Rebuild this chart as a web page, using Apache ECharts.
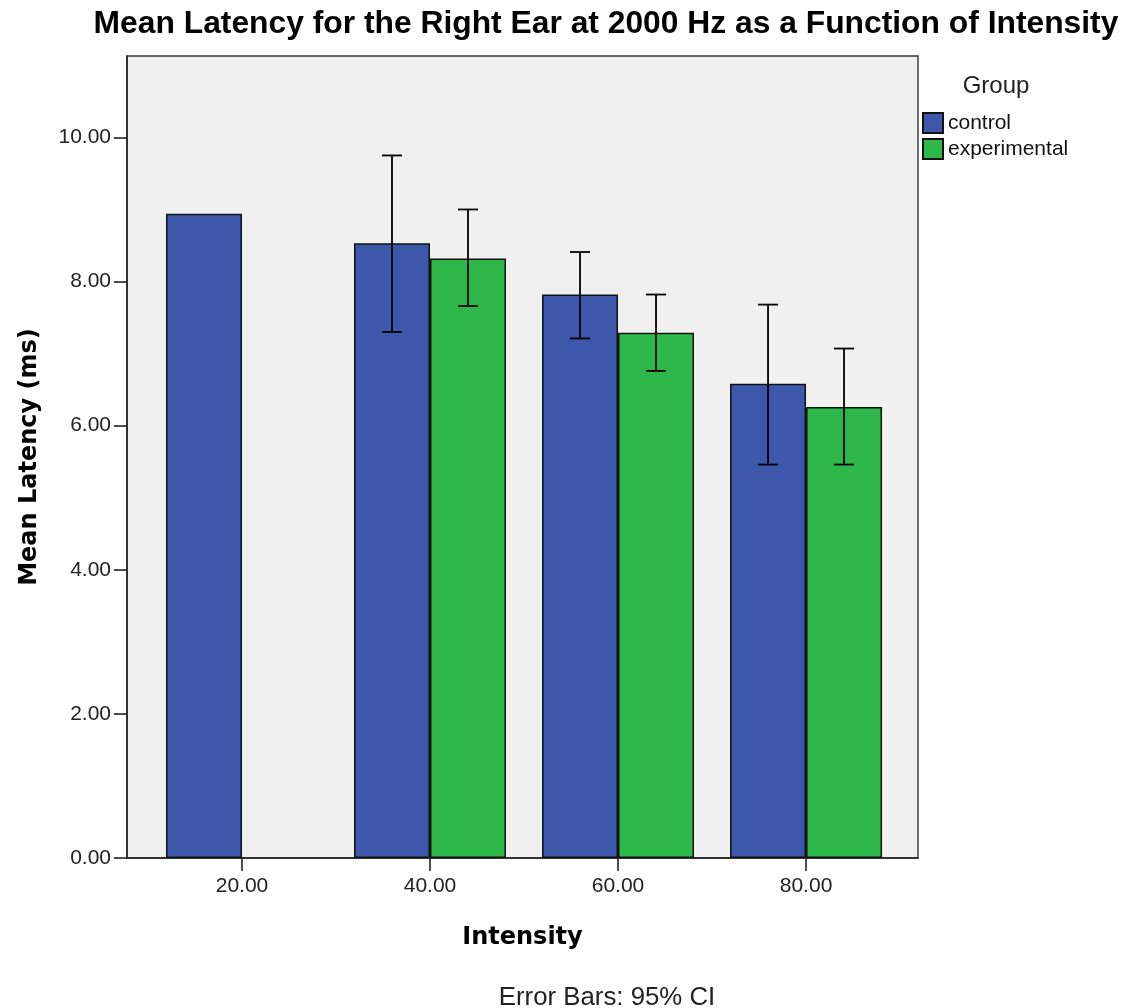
<!DOCTYPE html>
<html>
<head>
<meta charset="utf-8">
<script src="https://cdn.jsdelivr.net/npm/echarts@6/dist/echarts.min.js"></script>
<style>
  html, body { margin: 0; padding: 0; background: #ffffff; }
  #chart { width: 1125px; height: 1008px; }
</style>
</head>
<body>
<div id="chart"></div>
<script>
// Intensity levels (dB) on the x axis
const intensity = [20, 40, 60, 80];
const yTicks = [0, 2, 4, 6, 8, 10];

// Mean latency (ms) and 95% CI bounds per group; null = no data
const controlMean = [8.94, 8.53, 7.82, 6.58];
const controlLow  = [null, 7.30, 7.21, 5.46];
const controlHigh = [null, 9.75, 8.41, 7.68];

const experimentalMean = [null, 8.32, 7.29, 6.26];
const experimentalLow  = [null, 7.66, 6.76, 5.46];
const experimentalHigh = [null, 9.00, 7.82, 7.07];

const BLUE = '#3d58ab';
const GREEN = '#2fb84a';
const BAR_W = 76;

const sansFont = '"Liberation Sans", Arial, sans-serif';
const nameFont = '"DejaVu Sans", Verdana, sans-serif';

function barData(means) {
  const out = [];
  means.forEach((v, i) => { if (v != null) out.push([intensity[i], v]); });
  return out;
}
function ciData(low, high) {
  const out = [];
  low.forEach((v, i) => { if (v != null && high[i] != null) out.push([intensity[i], v, high[i]]); });
  return out;
}

// Whisker with caps, shifted sideways to sit on its own bar in the group
function ciRenderer(offsetPx) {
  return function (params, api) {
    const x = api.value(0);
    const lo = api.coord([x, api.value(1)]);
    const hi = api.coord([x, api.value(2)]);
    const cx = lo[0] + offsetPx;
    const cap = 10;
    const style = { stroke: '#000', lineWidth: 1.8, fill: null };
    return {
      type: 'group',
      children: [
        { type: 'line', shape: { x1: cx, y1: lo[1], x2: cx, y2: hi[1] }, style },
        { type: 'line', shape: { x1: cx - cap, y1: hi[1], x2: cx + cap, y2: hi[1] }, style },
        { type: 'line', shape: { x1: cx - cap, y1: lo[1], x2: cx + cap, y2: lo[1] }, style }
      ]
    };
  };
}

const chart = echarts.init(document.getElementById('chart'), null, { renderer: 'canvas' });

chart.setOption({
  animation: false,
  backgroundColor: '#ffffff',
  textStyle: { fontFamily: sansFont },
  title: [
    {
      text: 'Mean Latency for the Right Ear at 2000 Hz as a Function of Intensity',
      left: 601, top: 3, textAlign: 'center',
      textStyle: { fontSize: 31.8, fontWeight: 'bold', color: '#000', fontFamily: sansFont }
    },
    {
      text: 'Group',
      left: 991, top: 69, textAlign: 'center',
      textStyle: { fontSize: 24, fontWeight: 'normal', color: '#222', fontFamily: sansFont }
    },
    {
      text: 'Error Bars: 95% CI',
      left: 602, top: 980, textAlign: 'center',
      textStyle: { fontSize: 25.8, fontWeight: 'normal', color: '#222', fontFamily: sansFont }
    }
  ],
  legend: {
    orient: 'vertical',
    left: 922, top: 112, padding: 0,
    itemWidth: 20, itemHeight: 20, itemGap: 4,
    icon: 'rect',
    textStyle: { fontSize: 21, lineHeight: 20, color: '#111', fontFamily: sansFont },
    data: ['control', 'experimental']
  },
  grid: {
    left: 127, top: 56, right: 207, bottom: 150,
    show: true, backgroundColor: '#f0f0f0',
    borderColor: '#333', borderWidth: 1.4
  },
  xAxis: {
    type: 'value',
    min: 7.77, max: 91.91,
    name: 'Intensity',
    nameLocation: 'middle', nameGap: 68,
    nameTextStyle: { fontSize: 24, fontWeight: 'bold', color: '#000', fontFamily: nameFont },
    splitLine: { show: false },
    axisLine: { show: true, lineStyle: { color: '#222', width: 1.6 } },
    axisTick: { show: true, length: 13, lineStyle: { color: '#222', width: 1.6 }, customValues: intensity },
    axisLabel: {
      show: true, fontSize: 21, color: '#222', margin: 18, fontFamily: sansFont,
      customValues: intensity,
      formatter: v => v.toFixed(2)
    }
  },
  yAxis: {
    type: 'value',
    min: 0, max: 11.13, interval: 2,
    name: 'Mean Latency (ms)',
    nameLocation: 'middle', nameGap: 85, nameRotate: 90,
    nameTextStyle: { fontSize: 24, fontWeight: 'bold', color: '#000', fontFamily: nameFont },
    splitLine: { show: false },
    axisLine: { show: true, lineStyle: { color: '#222', width: 1.6 } },
    axisTick: { show: true, length: 13, lineStyle: { color: '#222', width: 1.6 }, customValues: yTicks },
    axisLabel: {
      show: true, fontSize: 21, color: '#222', margin: 16, fontFamily: sansFont,
      customValues: yTicks,
      formatter: v => v.toFixed(2)
    }
  },
  series: [
    {
      name: 'control', type: 'bar',
      barWidth: BAR_W, barGap: '0%',
      itemStyle: { color: BLUE, borderColor: '#111', borderWidth: 1.5 },
      data: barData(controlMean),
      z: 2
    },
    {
      name: 'experimental', type: 'bar',
      barWidth: BAR_W, barGap: '0%',
      itemStyle: { color: GREEN, borderColor: '#111', borderWidth: 1.5 },
      data: barData(experimentalMean),
      z: 2
    },
    {
      name: 'control CI', type: 'custom',
      renderItem: ciRenderer(-BAR_W / 2),
      data: ciData(controlLow, controlHigh),
      encode: { x: 0, y: [1, 2] },
      z: 5, silent: true
    },
    {
      name: 'experimental CI', type: 'custom',
      renderItem: ciRenderer(BAR_W / 2),
      data: ciData(experimentalLow, experimentalHigh),
      encode: { x: 0, y: [1, 2] },
      z: 5, silent: true
    }
  ]
});
</script>
</body>
</html>
